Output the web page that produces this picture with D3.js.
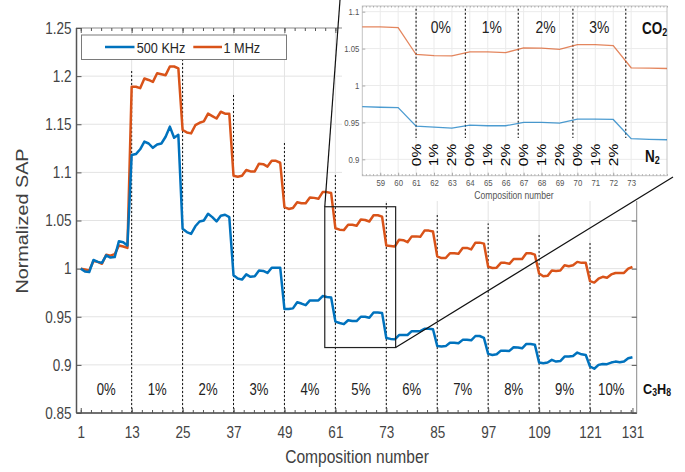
<!DOCTYPE html>
<html>
<head>
<meta charset="utf-8">
<script src="https://cdn.jsdelivr.net/npm/d3@7"></script>
<style>
  body { margin: 0; background: #fff; }
  svg { display: block; }
  text { font-family: "Liberation Sans", Arial, Helvetica, sans-serif; }
</style>
</head>
<body>
<div id="chart"></div>
<script>
// composition numbers 1..131
const composition = d3.range(1, 132);

// 500 KHz
const sap500k = [
  1.000, 0.997, 0.9965, 1.009, 1.007, 1.006, 1.0138, 1.0115, 1.012, 1.0285, 1.0275, 1.024,
  1.118, 1.119, 1.124, 1.132, 1.130, 1.1255, 1.129, 1.130, 1.137, 1.1475, 1.136, 1.139,
  1.0415, 1.038, 1.036, 1.044, 1.049, 1.050, 1.057, 1.0535, 1.049, 1.055, 1.056, 1.0535,
  0.993, 0.9897, 0.9886, 0.994, 0.9915, 0.992, 0.998, 0.9976, 0.9955, 1.001, 1.001, 1.001,
  0.958, 0.958, 0.9587, 0.965, 0.9637, 0.962, 0.967, 0.967, 0.967, 0.9715, 0.9705, 0.970,
  0.945, 0.9435, 0.9423, 0.9464, 0.9455, 0.9455, 0.950, 0.950, 0.949, 0.9545, 0.9545, 0.954,
  0.928, 0.927, 0.9265, 0.931, 0.931, 0.931, 0.935, 0.935, 0.935, 0.9375, 0.9375, 0.937,
  0.9197, 0.919, 0.9195, 0.923, 0.923, 0.9224, 0.926, 0.926, 0.9255, 0.930, 0.930, 0.928,
  0.9114, 0.9103, 0.911, 0.9148, 0.9148, 0.9145, 0.9183, 0.918, 0.9172, 0.9217, 0.9217, 0.921,
  0.9024, 0.9017, 0.9024, 0.9052, 0.9034, 0.904, 0.9086, 0.9086, 0.9093, 0.9128, 0.911, 0.9103,
  0.8983, 0.896, 0.900, 0.901, 0.9007, 0.9024, 0.9034, 0.9027, 0.9034, 0.9069, 0.9079
];

// 1 MHz
const sap1M = [
  1.000, 0.999, 0.998, 1.008, 1.007, 1.005, 1.0145, 1.0135, 1.015, 1.024, 1.023, 1.0215,
  1.189, 1.189, 1.1875, 1.1975, 1.196, 1.194, 1.203, 1.202, 1.201, 1.210, 1.210, 1.208,
  1.144, 1.1415, 1.1405, 1.149, 1.1515, 1.153, 1.161, 1.1585, 1.156, 1.163, 1.161, 1.161,
  1.0965, 1.0955, 1.0965, 1.1025, 1.101, 1.101, 1.109, 1.1085, 1.106, 1.112, 1.112, 1.110,
  1.064, 1.062, 1.063, 1.069, 1.068, 1.068, 1.074, 1.0735, 1.0725, 1.0795, 1.0795, 1.0785,
  1.042, 1.0405, 1.040, 1.0455, 1.0455, 1.0445, 1.051, 1.0505, 1.049, 1.0555, 1.0555, 1.054,
  1.024, 1.0235, 1.023, 1.030, 1.0295, 1.0275, 1.0335, 1.0335, 1.033, 1.0395, 1.0395, 1.0385,
  1.0128, 1.011, 1.011, 1.016, 1.016, 1.0155, 1.0215, 1.0215, 1.020, 1.027, 1.027, 1.026,
  1.002, 1.0007, 1.001, 1.006, 1.006, 1.005, 1.010, 1.010, 1.010, 1.016, 1.016, 1.0145,
  0.995, 0.992, 0.9925, 0.998, 0.9975, 0.998, 1.0035, 1.0025, 1.0035, 1.007, 1.006, 1.006,
  0.987, 0.9855, 0.9895, 0.9915, 0.9905, 0.994, 0.9955, 0.9955, 0.9955, 1.000, 1.0017
];

const xTickValues = [1, 13, 25, 37, 49, 61, 73, 85, 97, 109, 121, 131];
const yTickValues = [0.85, 0.9, 0.95, 1, 1.05, 1.1, 1.15, 1.2, 1.25];

// C3H8 groups
const c3h8Bounds = [1, 13, 25, 37, 49, 61, 73, 85, 97, 109, 121, 131];
const c3h8Labels = ['0%', '1%', '2%', '3%', '4%', '5%', '6%', '7%', '8%', '9%', '10%'];
const dividerAt = [13, 25, 37, 49, 61, 73, 85, 97, 109, 121];
const dividerTop = [1.2053, 1.2167, 1.181, 1.132, 1.099, 1.0695, 1.0575, 1.047, 1.035, 1.027];

// inset
const insetXTicks = [59, 60, 61, 62, 63, 64, 65, 66, 67, 68, 69, 70, 71, 72, 73];
const insetYTicks = [0.9, 0.95, 1, 1.05, 1.1];
const co2Bounds = [61, 63.75, 66.7, 69.75, 72.7];
const co2Labels = ['0%', '1%', '2%', '3%'];
const n2Labels = ['0%', '1%', '2%'];
const n2At = [61, 62, 63, 64, 65, 66, 67, 68, 69, 70, 71, 72];

const BLUE = '#0072BD';
const ORANGE = '#D95319';
const SQ = 0.82; // the picture is squeezed sideways

const width = 685;
const height = 472;

const svg = d3.select('#chart').append('svg')
  .attr('width', width)
  .attr('height', height);

function label(g, px, py, str, opts) {
  opts = opts || {};
  const t = g.append('text')
    .attr('transform', `translate(${px},${py}) scale(${SQ},1)` + (opts.rotate ? ` rotate(${opts.rotate})` : ''))
    .attr('text-anchor', opts.anchor || 'middle')
    .attr('font-size', opts.size || 16)
    .attr('font-weight', opts.weight || 'normal')
    .attr('fill', opts.color || '#222');
  if (opts.baseline) t.attr('dominant-baseline', opts.baseline);
  t.text(str);
  return t;
}

// ---------- main plot ----------
const x = d3.scaleLinear().domain([0, 132]).range([76.5, 636.7]);
const y = d3.scaleLinear().domain([0.85, 1.25]).range([413, 28]);
const [x0, x1] = x.range();
const [yb, yt] = y.range();

const main = svg.append('g');

// grid
main.append('g').selectAll('line').data(yTickValues.slice(1, -1)).enter().append('line')
  .attr('x1', x0).attr('x2', x1)
  .attr('y1', (d) => y(d)).attr('y2', (d) => y(d))
  .attr('stroke', '#e3e3e3').attr('stroke-width', 1);
main.append('g').selectAll('line').data(xTickValues.slice(1, -1)).enter().append('line')
  .attr('x1', (d) => x(d)).attr('x2', (d) => x(d))
  .attr('y1', yb).attr('y2', yt)
  .attr('stroke', '#e3e3e3').attr('stroke-width', 1);

// dotted group dividers
main.append('g').selectAll('line').data(dividerAt).enter().append('line')
  .attr('x1', (d) => x(d)).attr('x2', (d) => x(d))
  .attr('y1', yb).attr('y2', (d, i) => y(dividerTop[i]))
  .attr('stroke', '#111').attr('stroke-width', 1)
  .attr('stroke-dasharray', '2,2');

// frame
main.append('rect')
  .attr('x', x0).attr('y', yt)
  .attr('width', x1 - x0).attr('height', yb - yt)
  .attr('fill', 'none').attr('stroke', '#8a8a8a').attr('stroke-width', 1);

// axes
const minorTicks = d3.range(1, 131.1, 2.4);
function styleAxis(g) {
  g.select('.domain').remove();
  g.selectAll('line').attr('stroke', '#555');
  g.selectAll('text').attr('fill', '#444').attr('font-size', 16.5)
    .attr('font-family', '"Liberation Sans", Arial, sans-serif');
}
const xAxis = main.append('g').attr('transform', `translate(0,${yb})`)
  .call(d3.axisBottom(x).tickValues(xTickValues).tickFormat(d3.format('d')).tickSizeInner(-5).tickSizeOuter(0).tickPadding(13))
  .call(styleAxis);
xAxis.selectAll('text').attr('transform', `scale(${SQ},1)`);
main.append('g').attr('transform', `translate(0,${yb})`)
  .call(d3.axisBottom(x).tickValues(minorTicks).tickFormat('').tickSizeInner(-3).tickSizeOuter(0))
  .call(styleAxis);
main.append('g').attr('transform', `translate(0,${yt})`)
  .call(d3.axisTop(x).tickValues(xTickValues).tickFormat('').tickSizeInner(-5).tickSizeOuter(0))
  .call(styleAxis);
main.append('g').attr('transform', `translate(0,${yt})`)
  .call(d3.axisTop(x).tickValues(minorTicks).tickFormat('').tickSizeInner(-3).tickSizeOuter(0))
  .call(styleAxis);
const yAxis = main.append('g').attr('transform', `translate(${x0},0)`)
  .call(d3.axisLeft(y).tickValues(yTickValues).tickFormat((d) => String(+d.toFixed(2))).tickSizeInner(-5).tickSizeOuter(0).tickPadding(5))
  .call(styleAxis);
yAxis.selectAll('text').attr('transform', `scale(${SQ},1)`).attr('x', -5 / SQ);
main.append('g').attr('transform', `translate(${x1},0)`)
  .call(d3.axisRight(y).tickValues(yTickValues).tickFormat('').tickSizeInner(-5).tickSizeOuter(0))
  .call(styleAxis);
// darker left and bottom axis lines
main.append('line').attr('x1', x0).attr('x2', x0).attr('y1', yt).attr('y2', yb)
  .attr('stroke', '#555').attr('stroke-width', 1.5);
main.append('line').attr('x1', x0).attr('x2', x1).attr('y1', yb).attr('y2', yb)
  .attr('stroke', '#555').attr('stroke-width', 1.5);

// series
const line = d3.line()
  .x((d, i) => x(composition[i]))
  .y((d) => y(d));
main.append('path').datum(sap1M)
  .attr('d', line).attr('fill', 'none')
  .attr('stroke', ORANGE).attr('stroke-width', 2.5).attr('stroke-linejoin', 'round');
main.append('path').datum(sap500k)
  .attr('d', line).attr('fill', 'none')
  .attr('stroke', BLUE).attr('stroke-width', 2.5).attr('stroke-linejoin', 'round');

// group labels
c3h8Labels.forEach((t, i) => {
  const mid = (c3h8Bounds[i] + c3h8Bounds[i + 1]) / 2;
  label(main, x(mid), 395, t, { size: 16, color: '#222' });
});
const c3 = main.append('text')
  .attr('transform', `translate(643,394) scale(${SQ},1)`)
  .attr('font-size', 15.5).attr('font-weight', 'bold').attr('fill', '#111');
c3.append('tspan').text('C');
c3.append('tspan').attr('font-size', 10.5).attr('dy', 2).text('3');
c3.append('tspan').attr('dy', -2).text('H');
c3.append('tspan').attr('font-size', 10.5).attr('dy', 2).text('8');

// axis titles
label(svg, 28.3, 221, 'Normalized SAP', { size: 19.8, color: '#404040', rotate: -90 });
label(svg, 357, 463, 'Composition number', { size: 19, color: '#404040' });

// legend
const legend = svg.append('g');
legend.append('rect').attr('x', 81.5).attr('y', 35).attr('width', 205).attr('height', 24.5)
  .attr('fill', '#fff').attr('stroke', '#7a7a7a').attr('stroke-width', 1);
legend.append('line').attr('x1', 105).attr('x2', 134.5).attr('y1', 47).attr('y2', 47)
  .attr('stroke', BLUE).attr('stroke-width', 2.5);
label(legend, 136.7, 53.3, '500 KHz', { anchor: 'start', size: 15.5, color: '#262626' });
legend.append('line').attr('x1', 193.3).attr('x2', 222).attr('y1', 47).attr('y2', 47)
  .attr('stroke', ORANGE).attr('stroke-width', 2.5);
label(legend, 223.5, 53.3, '1 MHz', { anchor: 'start', size: 15.5, color: '#262626' });

// ---------- inset ----------
const inset = svg.append('g');
inset.append('rect').attr('x', 342).attr('y', 0).attr('width', 343).attr('height', 201)
  .attr('fill', '#fff');

const xi = d3.scaleLinear().domain([58, 75]).range([362.3, 667]);
const yi = d3.scaleLinear().domain([0.8778, 1.1077]).range([175.7, 6]);
const [xi0, xi1] = xi.range();
const [yib, yit] = yi.range();

inset.append('g').selectAll('line').data(insetYTicks).enter().append('line')
  .attr('x1', xi0).attr('x2', xi1)
  .attr('y1', (d) => yi(d)).attr('y2', (d) => yi(d))
  .attr('stroke', '#ebebeb');
inset.append('g').selectAll('line').data(insetXTicks).enter().append('line')
  .attr('x1', (d) => xi(d)).attr('x2', (d) => xi(d))
  .attr('y1', yib).attr('y2', yit)
  .attr('stroke', '#ebebeb');
inset.append('rect')
  .attr('x', xi0).attr('y', yit).attr('width', xi1 - xi0).attr('height', yib - yit)
  .attr('fill', 'none').attr('stroke', '#c4c4c4');

function styleInsetAxis(g) {
  g.select('.domain').remove();
  g.selectAll('line').attr('stroke', '#aaa');
  g.selectAll('text').attr('fill', '#555').attr('font-size', 9.5)
    .attr('font-family', '"Liberation Sans", Arial, sans-serif');
}
const insetMinor = d3.range(58, 75.01, 0.2);
const ixAxis = inset.append('g').attr('transform', `translate(0,${yib})`)
  .call(d3.axisBottom(xi).tickValues(insetXTicks).tickFormat(d3.format('d')).tickSizeInner(-3).tickSizeOuter(0).tickPadding(4))
  .call(styleInsetAxis);
ixAxis.selectAll('text').attr('transform', `scale(${SQ},1)`);
inset.append('g').attr('transform', `translate(0,${yib})`)
  .call(d3.axisBottom(xi).tickValues(insetMinor).tickFormat('').tickSizeInner(-1.5).tickSizeOuter(0))
  .call(styleInsetAxis);
inset.append('g').attr('transform', `translate(0,${yit})`)
  .call(d3.axisTop(xi).tickValues(insetMinor).tickFormat('').tickSizeInner(-1.5).tickSizeOuter(0))
  .call(styleInsetAxis);
const iyAxis = inset.append('g').attr('transform', `translate(${xi0},0)`)
  .call(d3.axisLeft(yi).tickValues(insetYTicks).tickFormat((d) => String(+d.toFixed(2))).tickSizeInner(-3).tickSizeOuter(0).tickPadding(3))
  .call(styleInsetAxis);
iyAxis.selectAll('text').attr('transform', `scale(${SQ},1)`).attr('x', -3 / SQ);

// inset dividers
inset.append('g').selectAll('line').data(co2Bounds).enter().append('line')
  .attr('x1', (d) => xi(d)).attr('x2', (d) => xi(d))
  .attr('y1', yi(1.104)).attr('y2', yi(0.929))
  .attr('stroke', '#111').attr('stroke-width', 1.1)
  .attr('stroke-dasharray', '2,2');

// inset series (same data, window 58..75)
const insetIdx = composition.map((c, i) => i).filter((i) => composition[i] >= 58 && composition[i] <= 75);
function insetPath(series, color) {
  const iline = d3.line()
    .x((i) => xi(composition[i]))
    .y((i) => yi(series[i]));
  inset.append('path')
    .attr('d', iline(insetIdx)).attr('fill', 'none')
    .attr('stroke', color).attr('stroke-width', 1.3).attr('stroke-opacity', 0.7);
}
insetPath(sap1M, ORANGE);
insetPath(sap500k, BLUE);

// inset labels
co2Labels.forEach((t, i) => {
  const mid = (co2Bounds[i] + co2Bounds[i + 1]) / 2;
  label(inset, xi(mid), 33.3, t, { size: 17, color: '#222' });
});
const co2 = inset.append('text')
  .attr('transform', `translate(642,34) scale(${SQ},1)`)
  .attr('font-size', 16.5).attr('font-weight', 'bold').attr('fill', '#111');
co2.append('tspan').text('CO');
co2.append('tspan').attr('font-size', 11).attr('dy', 2).text('2');
const n2 = inset.append('text')
  .attr('transform', `translate(645,161.7) scale(${SQ},1)`)
  .attr('font-size', 16.5).attr('font-weight', 'bold').attr('fill', '#111');
n2.append('tspan').text('N');
n2.append('tspan').attr('font-size', 11).attr('dy', 2).text('2');

n2At.forEach((n, i) => {
  label(inset, xi(n), 155, n2Labels[i % n2Labels.length],
    { size: 15.5, color: '#000', rotate: -90, baseline: 'central' });
});
label(inset, 514, 198.5, 'Composition number', { size: 10.5, color: '#555' });

// ---------- zoom box and connectors ----------
const zoomX = [58.5, 75.2];
const zoomY = [0.918, 1.0643];
const over = svg.append('g');
over.append('rect')
  .attr('x', x(zoomX[0])).attr('y', y(zoomY[1]))
  .attr('width', x(zoomX[1]) - x(zoomX[0]))
  .attr('height', y(zoomY[0]) - y(zoomY[1]))
  .attr('fill', 'none').attr('stroke', '#222').attr('stroke-width', 1.2);
over.append('line')
  .attr('x1', x(zoomX[0])).attr('y1', y(zoomY[1]))
  .attr('x2', 340).attr('y2', 0)
  .attr('stroke', '#111').attr('stroke-width', 1.2);
over.append('line')
  .attr('x1', x(zoomX[1])).attr('y1', y(zoomY[0]))
  .attr('x2', 673).attr('y2', 177)
  .attr('stroke', '#111').attr('stroke-width', 1.2);
</script>
</body>
</html>
